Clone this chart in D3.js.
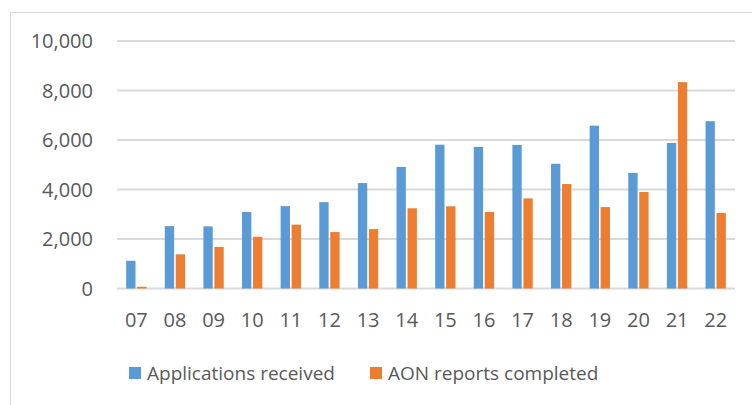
<!DOCTYPE html>
<html><head><meta charset="utf-8">
<script src="https://cdn.jsdelivr.net/npm/d3@7"></script>
<style>body{margin:0;background:#fff}svg{display:block}text{font-family:"Open Sans",sans-serif;fill:#595959}</style>
</head><body>
<svg id="c" width="752" height="405"></svg>
<script>
const categories = ["07","08","09","10","11","12","13","14","15","16","17","18","19","20","21","22"];
const applications = [1120,2520,2510,3090,3330,3490,4260,4910,5810,5720,5800,5040,6580,4670,5880,6760];
const aonReports = [70,1380,1680,2090,2580,2280,2400,3240,3320,3090,3640,4220,3290,3900,8340,3050];
const yTicks = [0,2000,4000,6000,8000,10000];
const seriesNames = ["Applications received","AON reports completed"];
const colors = ["#5B9BD5","#ED7D31"];

(function(){
const svg = d3.select("#c");
svg.append("rect").attr("x",10.5).attr("y",12.5).attr("width",760).attr("height",420)
  .attr("fill","#fff").attr("stroke","#D9D9D9").attr("stroke-width",1);

const pl=117,pr=735,pt=41,pb=288.5;
const y = d3.scaleLinear().domain([0,10000]).range([pb,pt]);
const x0 = d3.scaleBand().domain(categories).range([pl,pr]).paddingInner(0.474).paddingOuter(0.237);
const x1 = d3.scaleBand().domain([0,1]).range([0,x0.bandwidth()]).paddingInner(0.15);

svg.append("g").selectAll("line").data(yTicks).join("line")
  .attr("x1",pl).attr("x2",pr).attr("y1",d=>y(d)).attr("y2",d=>y(d))
  .attr("stroke","#D9D9D9").attr("stroke-width",2);

svg.append("g").selectAll("text").data(yTicks).join("text")
  .attr("x",93).attr("y",d=>y(d)).attr("dy","0.36em").attr("text-anchor","end")
  .attr("font-size",20).text(d=>d3.format(",")(d));

const data = categories.map((c,i)=>({c, v:[applications[i],aonReports[i]]}));
const g = svg.append("g").selectAll("g").data(data).join("g")
  .attr("transform",d=>`translate(${x0(d.c)},0)`);
g.selectAll("rect").data(d=>d.v.map((v,k)=>({v,k}))).join("rect")
  .attr("x",d=>x1(d.k)).attr("width",x1.bandwidth())
  .attr("y",d=>y(d.v)).attr("height",d=>pb-y(d.v))
  .attr("fill",d=>colors[d.k]);

svg.append("g").selectAll("text").data(categories).join("text")
  .attr("x",d=>x0(d)+x0.bandwidth()/2).attr("y",327).attr("text-anchor","middle")
  .attr("font-size",20).text(d=>d);

const legX = [129,370];
const lg = svg.append("g").selectAll("g").data(seriesNames).join("g")
  .attr("transform",(d,i)=>`translate(${legX[i]},367)`);
lg.append("rect").attr("width",12).attr("height",12).attr("fill",(d,i)=>colors[i]);
lg.append("text").attr("x",18).attr("y",12.5).attr("font-size",19).text(d=>d);
})();
</script>
</body></html>
